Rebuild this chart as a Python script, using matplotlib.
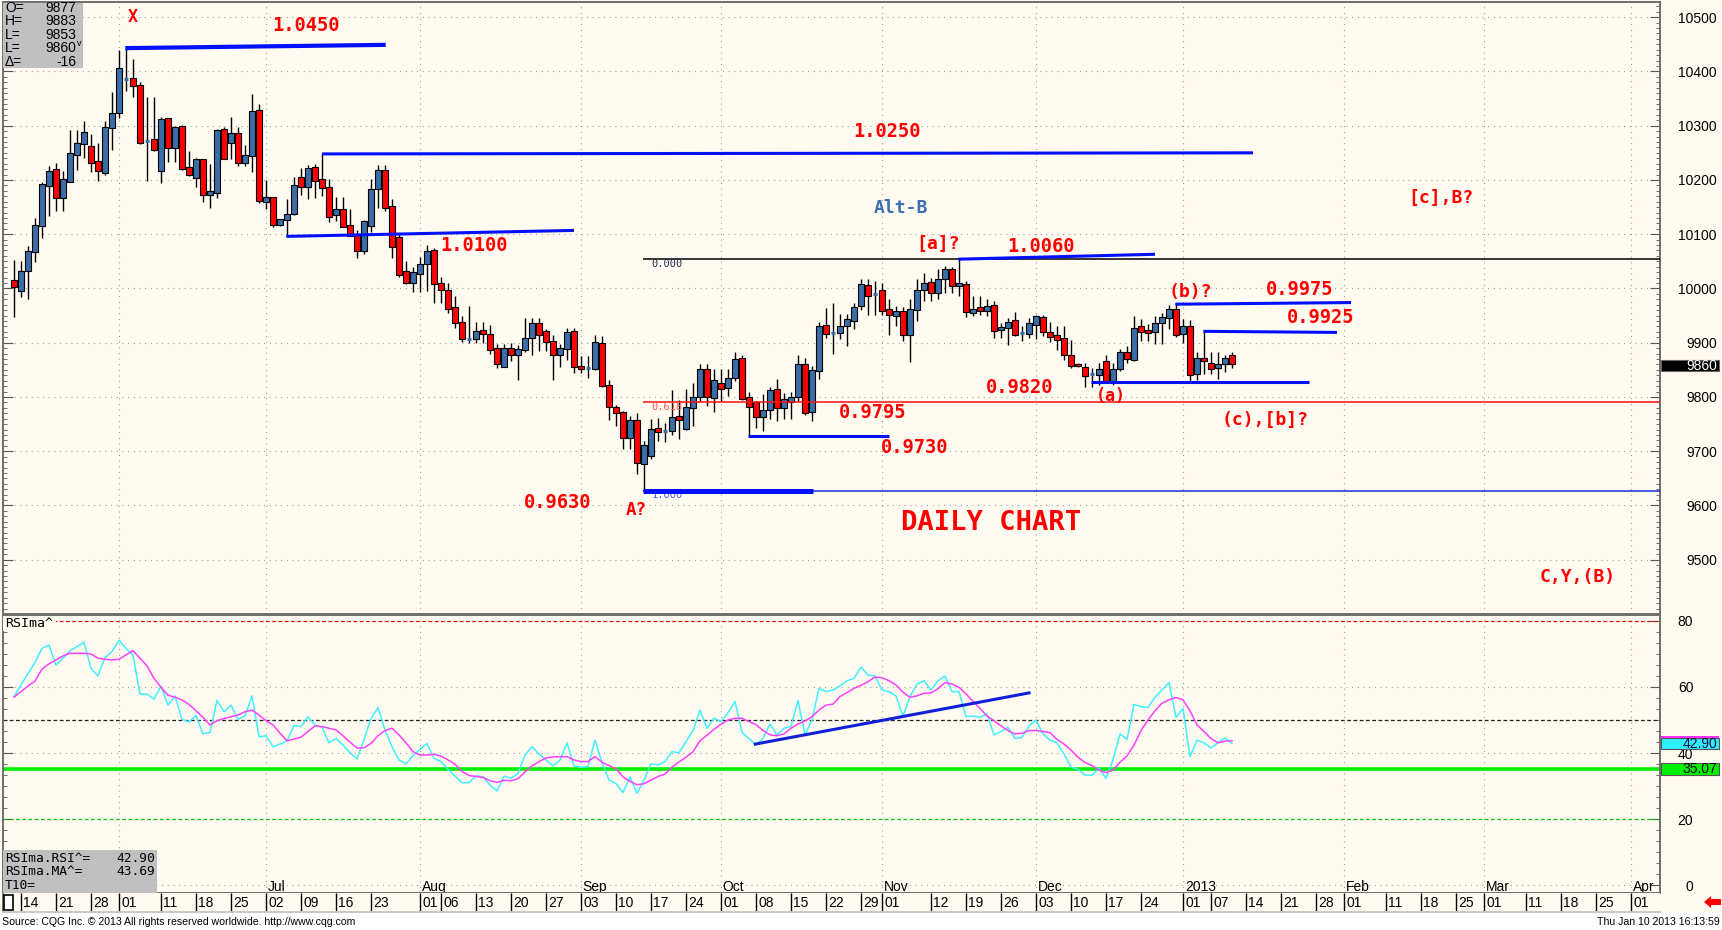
import numpy as np
import matplotlib
matplotlib.use("Agg")
import matplotlib.pyplot as plt
from matplotlib.patches import Rectangle, Polygon
from matplotlib.transforms import blended_transform_factory

W, H = 1722, 930

# daily bars from 2012-05-11 to 2013-01-10 (price x 10000)
first_day = "2012-05-11"
opens = [10015, 9995, 10032, 10067, 10115, 10189, 10220, 10167, 10196, 10246,
         10266, 10263, 10235, 10213, 10296, 10323, 10386, 10388, 10375, 10272,
         10275, 10216, 10314, 10259, 10299, 10224, 10203, 10238, 10172, 10176,
         10294, 10268, 10286, 10231, 10244, 10329, 10159, 10168, 10117, 10126,
         10137, 10205, 10187, 10224, 10202, 10187, 10135, 10146, 10117, 10098,
         10069, 10115, 10183, 10218, 10152, 10094, 10032, 10011, 10026, 10046,
         10070, 10010, 9998, 9965, 9939, 9906, 9906, 9923, 9917, 9890,
         9856, 9890, 9878, 9886, 9908, 9936, 9921, 9904, 9878, 9888,
         9921, 9858, 9854, 9852, 9900, 9823, 9782, 9773, 9725, 9758,
         9677, 9692, 9743, 9737, 9738, 9765, 9741, 9780, 9800, 9852,
         9799, 9826, 9817, 9835, 9872, 9800, 9791, 9763, 9776, 9814,
         9780, 9791, 9800, 9861, 9773, 9847, 9933, 9918, 9918, 9930,
         9940, 9968, 10006, 9990, 9998, 9963, 9949, 9958, 9915, 9961,
         9998, 10011, 9992, 10017, 10035, 10005, 10008, 9955, 9965, 9958,
         9969, 9923, 9928, 9941, 9918, 9917, 9933, 9948, 9920, 9914,
         9909, 9878, 9860, 9856, 9843, 9840, 9867, 9830, 9852, 9883,
         9869, 9930, 9924, 9920, 9937, 9946, 9963, 9917, 9930, 9843,
         9872, 9863, 9853, 9861, 9877]
highs = [10052, 10050, 10078, 10130, 10196, 10226, 10231, 10216, 10292, 10292,
         10309, 10285, 10268, 10309, 10362, 10440, 10443, 10423, 10381, 10353,
         10353, 10316, 10314, 10299, 10301, 10253, 10240, 10238, 10229, 10294,
         10298, 10316, 10298, 10264, 10358, 10340, 10200, 10168, 10128, 10164,
         10205, 10222, 10227, 10229, 10248, 10202, 10168, 10168, 10146, 10107,
         10126, 10202, 10227, 10227, 10165, 10100, 10050, 10039, 10058, 10080,
         10074, 10021, 10010, 9986, 9949, 9967, 9938, 9938, 9932, 9897,
         9897, 9899, 9895, 9945, 9945, 9945, 9925, 9915, 9897, 9928,
         9928, 9876, 9876, 9915, 9912, 9832, 9786, 9774, 9765, 9771,
         9718, 9759, 9762, 9752, 9813, 9795, 9814, 9826, 9860, 9860,
         9851, 9852, 9852, 9883, 9878, 9810, 9792, 9805, 9819, 9834,
         9808, 9810, 9877, 9872, 9858, 9938, 9964, 9973, 9953, 9953,
         9974, 10017, 10017, 10014, 10011, 9981, 9968, 9965, 9980, 10017,
         10029, 10020, 10035, 10042, 10039, 10054, 10014, 9987, 9987, 9980,
         9977, 9937, 9946, 9957, 9930, 9946, 9952, 9952, 9938, 9930,
         9930, 9905, 9862, 9862, 9854, 9863, 9877, 9863, 9888, 9894,
         9950, 9943, 9934, 9949, 9955, 9969, 9971, 9943, 9942, 9882,
         9920, 9883, 9882, 9878, 9883]
lows = [9947, 9984, 9980, 10048, 10093, 10133, 10143, 10143, 10196, 10218,
        10240, 10214, 10198, 10209, 10255, 10314, 10364, 10353, 10266, 10198,
        10253, 10194, 10233, 10233, 10218, 10207, 10187, 10159, 10148, 10166,
        10238, 10238, 10225, 10225, 10214, 10157, 10146, 10113, 10115, 10096,
        10135, 10172, 10165, 10166, 10170, 10122, 10124, 10113, 10096, 10057,
        10063, 10104, 10148, 10142, 10057, 10021, 10008, 9993, 9993, 9995,
        9973, 9974, 9954, 9927, 9902, 9899, 9899, 9899, 9880, 9853,
        9855, 9867, 9832, 9882, 9878, 9884, 9884, 9832, 9856, 9869,
        9845, 9845, 9835, 9850, 9818, 9758, 9746, 9704, 9704, 9658,
        9628, 9686, 9718, 9717, 9730, 9723, 9740, 9747, 9792, 9783,
        9772, 9792, 9802, 9829, 9795, 9728, 9743, 9737, 9759, 9755,
        9759, 9760, 9792, 9767, 9755, 9834, 9909, 9880, 9906, 9894,
        9925, 9961, 9952, 9952, 9952, 9914, 9931, 9903, 9864, 9940,
        9977, 9977, 9980, 9992, 9992, 9986, 9948, 9949, 9952, 9949,
        9909, 9909, 9896, 9912, 9903, 9909, 9906, 9912, 9901, 9886,
        9868, 9854, 9856, 9819, 9819, 9823, 9826, 9823, 9847, 9863,
        9866, 9903, 9903, 9897, 9897, 9925, 9911, 9900, 9826, 9832,
        9842, 9842, 9834, 9846, 9853]
closes = [10002, 10032, 10069, 10117, 10192, 10216, 10167, 10202, 10250, 10268,
          10288, 10231, 10216, 10298, 10323, 10406, 10386, 10373, 10268, 10272,
          10255, 10312, 10259, 10298, 10220, 10209, 10238, 10172, 10179, 10292,
          10238, 10286, 10231, 10246, 10327, 10161, 10168, 10117, 10128, 10137,
          10190, 10187, 10222, 10198, 10185, 10131, 10146, 10113, 10096, 10069,
          10124, 10183, 10218, 10148, 10076, 10024, 10010, 10030, 10046, 10069,
          10008, 9997, 9962, 9936, 9906, 9906, 9921, 9917, 9886, 9860,
          9890, 9878, 9888, 9908, 9936, 9914, 9902, 9877, 9891, 9919,
          9856, 9852, 9854, 9902, 9820, 9782, 9771, 9725, 9758, 9679,
          9712, 9741, 9736, 9737, 9763, 9758, 9782, 9800, 9852, 9800,
          9831, 9815, 9835, 9870, 9797, 9782, 9763, 9776, 9812, 9780,
          9797, 9800, 9861, 9771, 9849, 9931, 9917, 9918, 9930, 9943,
          9965, 10008, 9987, 9990, 9958, 9952, 9958, 9914, 9963, 9998,
          10011, 9992, 10017, 10035, 10005, 10010, 9957, 9963, 9958, 9968,
          9922, 9929, 9939, 9915, 9918, 9937, 9949, 9920, 9911, 9905,
          9878, 9857, 9858, 9839, 9843, 9852, 9829, 9852, 9882, 9870,
          9928, 9920, 9918, 9937, 9948, 9963, 9915, 9931, 9840, 9872,
          9867, 9852, 9861, 9871, 9860]

# RSI and its moving average, same days as the bars
rsi = [57.1, 60.6, 64.1, 67.4, 71.7, 72.7, 66.6, 68.7, 71.0, 72.2,
       73.5, 65.7, 63.3, 68.9, 70.7, 74.2, 71.7, 69.7, 57.8, 57.8,
       56.3, 60.3, 54.5, 57.3, 50.2, 49.4, 51.4, 45.8, 46.2, 55.9,
       52.5, 54.5, 50.2, 51.2, 57.3, 44.9, 45.2, 41.9, 42.7, 43.7,
       48.3, 48.0, 51.0, 48.5, 47.8, 43.1, 44.4, 42.4, 40.1, 38.2,
       44.1, 50.5, 53.7, 47.0, 41.9, 37.9, 36.7, 39.2, 41.1, 42.9,
       38.4, 37.4, 35.1, 33.0, 31.0, 31.0, 33.1, 32.8, 30.3, 28.5,
       33.0, 32.3, 33.8, 39.4, 41.9, 39.7, 37.9, 36.1, 37.9, 43.1,
       36.1, 35.7, 35.9, 43.9, 37.1, 31.8, 30.8, 28.0, 32.8, 27.8,
       31.8, 36.7, 36.4, 37.4, 40.4, 40.1, 43.4, 46.8, 53.0, 47.5,
       50.5, 49.5, 52.2, 55.6, 46.2, 44.4, 42.4, 44.4, 48.8, 45.5,
       47.5, 48.0, 55.9, 45.5, 50.0, 59.6, 58.6, 59.1, 60.3, 61.9,
       62.6, 66.0, 63.6, 63.3, 59.1, 58.6, 57.3, 51.2, 57.1, 60.9,
       61.9, 59.1, 61.9, 63.3, 58.6, 58.6, 51.0, 51.2, 50.8, 51.8,
       45.5, 46.5, 47.8, 44.4, 44.7, 48.2, 50.0, 45.8, 43.9, 43.1,
       39.7, 35.7, 35.1, 33.3, 33.3, 35.4, 32.3, 37.9, 45.8, 44.1,
       54.7, 54.0, 53.8, 56.9, 59.1, 61.3, 50.8, 53.5, 38.9, 43.9,
       43.1, 41.5, 43.1, 44.6, 42.9]
rsi_ma = [56.9, 58.6, 60.3, 61.8, 65.4, 67.0, 68.2, 69.4, 70.2, 70.2,
          70.2, 70.0, 68.7, 68.4, 68.2, 68.4, 69.7, 71.0, 68.7, 66.4,
          62.6, 59.9, 57.5, 56.9, 56.1, 54.7, 52.8, 50.8, 48.5, 49.8,
          50.4, 51.0, 51.5, 52.5, 53.0, 51.5, 49.8, 48.5, 46.0, 43.7,
          44.2, 44.8, 46.5, 48.2, 48.0, 47.5, 47.0, 45.2, 43.3, 41.5,
          41.6, 42.9, 45.2, 46.8, 47.5, 45.5, 43.1, 40.4, 39.4, 39.4,
          39.6, 39.1, 37.9, 36.6, 34.4, 33.2, 32.9, 32.6, 31.6, 31.1,
          31.7, 31.6, 32.2, 34.3, 36.1, 37.4, 38.5, 38.8, 38.9, 38.9,
          37.9, 37.4, 37.4, 38.9, 37.2, 36.2, 35.2, 32.8, 31.4, 30.4,
          30.7, 31.8, 32.9, 33.6, 35.7, 37.3, 38.7, 40.4, 43.7, 45.4,
          47.2, 48.7, 50.0, 50.5, 50.5, 49.5, 48.6, 46.8, 45.5, 45.2,
          45.8, 47.5, 48.8, 49.7, 51.0, 53.0, 54.5, 54.8, 57.1, 58.3,
          59.6, 60.5, 61.6, 63.0, 62.8, 61.9, 60.6, 58.4, 56.9, 57.3,
          58.1, 58.2, 59.5, 61.3, 60.9, 59.9, 57.9, 55.6, 53.5, 51.2,
          49.8, 48.2, 46.8, 45.8, 46.0, 46.8, 46.8, 46.5, 46.2, 44.1,
          42.7, 40.9, 38.7, 37.1, 36.2, 34.8, 34.1, 34.8, 37.2, 39.1,
          42.4, 46.8, 50.0, 52.8, 55.1, 56.1, 56.8, 56.1, 52.8, 48.5,
          46.5, 44.4, 43.1, 43.6, 43.7]

price_ticks = [9500, 9600, 9700, 9800, 9900, 10000, 10100, 10200, 10300, 10400, 10500]
rsi_ticks = [0, 20, 40, 60, 80]
day_ticks = ["2012-05-14", "2012-05-21", "2012-05-28", "2012-06-01", "2012-06-11",
             "2012-06-18", "2012-06-25", "2012-07-02", "2012-07-09", "2012-07-16",
             "2012-07-23", "2012-08-01", "2012-08-06", "2012-08-13", "2012-08-20",
             "2012-08-27", "2012-09-03", "2012-09-10", "2012-09-17", "2012-09-24",
             "2012-10-01", "2012-10-08", "2012-10-15", "2012-10-22", "2012-10-29",
             "2012-11-01", "2012-11-12", "2012-11-19", "2012-11-26", "2012-12-03",
             "2012-12-10", "2012-12-17", "2012-12-24", "2013-01-01", "2013-01-07",
             "2013-01-14", "2013-01-21", "2013-01-28", "2013-02-01", "2013-02-11",
             "2013-02-18", "2013-02-25", "2013-03-01", "2013-03-11", "2013-03-18",
             "2013-03-25", "2013-04-01"]
month_starts = ["2012-06-01", "2012-07-02", "2012-08-01", "2012-09-03", "2012-10-01",
                "2012-11-01", "2012-12-03", "2013-01-01", "2013-02-01", "2013-03-01",
                "2013-04-01"]
month_names = ["Jun", "Jul", "Aug", "Sep", "Oct", "Nov", "Dec", "2013", "Feb", "Mar", "Apr"]

origin = "2012-05-14"


def pos(d):
    return int(np.busday_count(origin, d))


def fx(x):
    return x / W


def fy(y):
    return 1 - y / H


assert len(opens) == len(highs) == len(lows) == len(closes) == len(rsi) == len(rsi_ma)

xs = np.arange(len(opens)) + pos(first_day)
o = np.array(opens, float)
h = np.array(highs, float)
l = np.array(lows, float)
c = np.array(closes, float)

CREAM = "#fffbf0"
UP = "#3b6ea8"
DOWN = "#ff0000"
LBLUE = "#0010ff"
GRIDC = "#8a8a8a"
DOT = (0, (0.8, 4.3))
XLIM = (-2.57, 234.14)

plt.rcParams["font.family"] = ["Liberation Sans", "DejaVu Sans"]
fig = plt.figure(figsize=(W / 100, H / 100), dpi=100, facecolor=CREAM)

ax = fig.add_axes([fx(3), fy(614), (1660 - 3) / W, (614 - 2) / H], facecolor=CREAM)
ax2 = fig.add_axes([fx(3), fy(893), (1660 - 3) / W, (893 - 615) / H], facecolor=CREAM)
axd = fig.add_axes([fx(3), fy(912), (1660 - 3) / W, (912 - 893) / H], facecolor=CREAM)

for a in (ax, ax2, axd):
    a.set_xlim(*XLIM)
    for s in a.spines.values():
        s.set_color("#6e6e6e")
        s.set_linewidth(1.4)

# ---------------- price panel ----------------
ax.set_ylim(9400, 10528)
for p in price_ticks:
    ax.axhline(p, color=GRIDC, lw=0.8, ls=DOT, zorder=1)
for d in month_starts:
    ax.axvline(pos(d), color=GRIDC, lw=0.8, ls=DOT, zorder=1)
    ax2.axvline(pos(d), color=GRIDC, lw=0.8, ls=DOT, zorder=1)

ax.vlines(xs, l, h, color="black", lw=1.0, zorder=2)
body = c != o
cols = np.where(c > o, UP, DOWN)
ax.bar(xs[body], np.abs(c - o)[body], bottom=np.minimum(o, c)[body], width=0.72,
       color=cols[body], edgecolor="black", linewidth=0.8, zorder=3)
ax.hlines(o[~body], xs[~body] - 0.3, xs[~body] + 0.3, color=UP, lw=2.2, zorder=3)

# fibonacci grid from the September low
fib_x0 = 88.9
ax.hlines(10054, fib_x0, XLIM[1], color="black", lw=1.1, zorder=4)
ax.hlines(9790, fib_x0, XLIM[1], color="#ff1010", lw=1.1, zorder=4)
ax.hlines(9626, fib_x0, XLIM[1], color="#1a28d8", lw=1.1, zorder=4)
ax.text(fib_x0 + 1.2, 10045, "0.000", fontsize=7.5, color="#1c2c50", va="center",
        family="DejaVu Sans Mono", zorder=4)
ax.text(fib_x0 + 1.2, 9781, "0.618", fontsize=7.5, color="#ff5a5a", va="center",
        family="DejaVu Sans Mono", zorder=5)
ax.text(fib_x0 + 1.2, 9619, "1.000", fontsize=7.5, color="#4a60ff", va="center",
        family="DejaVu Sans Mono", zorder=4)

# hand drawn levels
levels = [(14.9, 10443, 52.1, 10449, 3.0), (43.0, 10248, 176.0, 10250, 2.2),
          (37.9, 10096, 79.0, 10107, 2.2), (133.9, 10054, 162.0, 10063, 2.2),
          (164.9, 9971, 190.0, 9974, 2.2), (168.9, 9921, 188.0, 9919, 2.2),
          (152.9, 9828, 184.0, 9828, 2.2), (103.9, 9729, 124.0, 9729, 2.2),
          (88.9, 9626, 113.1, 9626, 3.6)]
for x0, y0, x1, y1, lw in levels:
    ax.plot([x0, x1], [y0, y1], color=LBLUE, lw=lw, solid_capstyle="butt", zorder=5)

labels = [("X", 15.9, 10501, 12), ("1.0450", 40.7, 10484, 13.5), ("1.0250", 123.7, 10290, 13.5),
          ("1.0100", 64.7, 10080, 13.5), ("[a]?", 131.0, 10082, 13), ("1.0060", 145.7, 10078, 13.5),
          ("(b)?", 167.0, 9993, 13), ("0.9975", 182.7, 9998, 13.5), ("0.9925", 185.7, 9947, 13.5),
          ("[c],B?", 202.9, 10166, 13), ("0.9820", 142.7, 9818, 13.5), ("(a)", 155.7, 9801, 12),
          ("(c),[b]?", 177.7, 9758, 13), ("0.9795", 121.7, 9771, 13.5), ("0.9730", 127.6, 9707, 13.5),
          ("0.9630", 76.7, 9605, 13.5), ("A?", 87.9, 9592, 12.5), ("DAILY CHART", 138.6, 9568, 19.5),
          ("C,Y,(B)", 222.4, 9469, 13)]
for txt, x, y, fs in labels:
    ax.text(x, y, txt, color="#ff0000", fontsize=fs, fontweight="bold", ha="center", va="center",
            family="DejaVu Sans Mono", zorder=6)
ax.text(125.7, 10148, "Alt-B", color="#3d6fb4", fontsize=13, fontweight="bold", ha="center",
        va="center", family="DejaVu Sans Mono", zorder=6)

ax.set_xticks([])
ax.yaxis.tick_right()
ax.set_yticks(price_ticks)
ax.set_yticklabels([str(p) for p in price_ticks])
ax.set_yticks(np.arange(9400, 10530, 10), minor=True)
ax.tick_params(axis="y", which="both", direction="in", left=True, right=True, colors="#555555",
               labelcolor="black", labelsize=10)
ax.tick_params(axis="y", which="major", length=7, pad=41)
ax.tick_params(axis="y", which="minor", length=3)
plt.setp(ax.get_yticklabels(), ha="right")

# last price box
bt = blended_transform_factory(ax.transAxes, ax.transData)
ax.add_patch(Rectangle((1.0006, 9847), 0.035, 22, transform=bt, facecolor="black",
                       edgecolor="#666666", lw=0.8, clip_on=False, zorder=10))
ax.text(1.0344, 9858, "9860", transform=bt, color="white", fontsize=10, ha="right",
        va="center", clip_on=False, zorder=11)

# ---------------- RSI panel ----------------
ax2.set_ylim(-2.4, 81.8)
for v in (0, 40, 60):
    ax2.axhline(v, color=GRIDC, lw=0.8, ls=DOT, zorder=1)
ax2.axhline(80, color="#e01010", lw=0.9, ls=(0, (3, 2)), zorder=2)
ax2.axhline(50, color="#202020", lw=0.9, ls=(0, (3, 2)), zorder=2)
ax2.axhline(20, color="#10c010", lw=0.9, ls=(0, (3, 2)), zorder=2)
ax2.axhline(35.07, color="#00ee00", lw=2.6, zorder=2)
ax2.plot(xs, rsi, color="#40f0ff", lw=1.1, zorder=3)
ax2.plot(xs, rsi_ma, color="#ff40ff", lw=1.1, zorder=3)
ax2.plot([104.9, 144.0], [42.7, 58.2], color="#1020d8", lw=2.2, zorder=4)

for d, name in zip(month_starts, month_names):
    ax2.text(pos(d) + 0.25, -0.6, name, fontsize=10, ha="left", va="center", zorder=2)

bt2 = blended_transform_factory(ax2.transAxes, ax2.transData)
ax2.add_patch(Rectangle((0.0, 77.0), 0.032, 4.6, transform=bt2, facecolor=CREAM,
                        edgecolor="none", zorder=3))
ax2.text(0.0015, 79.3, "RSIma^", fontsize=9.5, family="DejaVu Sans Mono", va="center",
         ha="left", transform=bt2, zorder=4)
ax2.set_xticks([])
ax2.yaxis.tick_right()
ax2.set_yticks(rsi_ticks)
ax2.set_yticklabels([str(v) for v in rsi_ticks])
ax2.set_yticks(np.arange(0, 81, 20 / 6), minor=True)
ax2.tick_params(axis="y", which="both", direction="in", left=True, right=True, colors="#555555",
                labelcolor="black", labelsize=10)
ax2.tick_params(axis="y", which="major", length=7, pad=24)
ax2.tick_params(axis="y", which="minor", length=3)
plt.setp(ax2.get_yticklabels(), ha="right")

ax2.add_patch(Rectangle((1.0006, 44.5), 0.035, 0.8, transform=bt2, facecolor="#ff30ff",
                        edgecolor="none", clip_on=False, zorder=10))
ax2.add_patch(Rectangle((1.0006, 41.2), 0.035, 3.3, transform=bt2, facecolor="#30f0ff",
                        edgecolor="#555555", lw=0.8, clip_on=False, zorder=10))
ax2.text(1.0344, 42.85, "42.90", transform=bt2, fontsize=10, ha="right", va="center",
         color="#101040", clip_on=False, zorder=11)
ax2.add_patch(Rectangle((1.0006, 33.3), 0.035, 3.7, transform=bt2, facecolor="#00f000",
                        edgecolor="#555555", lw=0.8, clip_on=False, zorder=10))
ax2.text(1.0344, 35.15, "35.07", transform=bt2, fontsize=10, ha="right", va="center",
         color="black", clip_on=False, zorder=11)

# ---------------- date row ----------------
axd.set_ylim(0, 1)
axd.set_xticks([])
axd.set_yticks([])
axd.spines["top"].set_visible(False)
axd.spines["bottom"].set_color("#c8c8c8")
axd.spines["right"].set_visible(False)
for d in day_ticks:
    p = pos(d)
    axd.vlines(p, 0, 1, color="black", lw=1.0)
    axd.text(p + 0.3, 0.45, d[-2:], fontsize=10, ha="left", va="center")

# ---------------- overlays ----------------
fig.add_artist(Rectangle((fx(3), fy(68)), 80 / W, 65 / H, transform=fig.transFigure,
                         facecolor="#c0c0c0", edgecolor="none", zorder=20))
info = [("O=", "9877"), ("H=", "9883"), ("L=", "9853"), ("L=", "9860"), ("\u0394=", "-16")]
for k, (a, b) in enumerate(info):
    yy = fy(8 + 13.4 * k)
    fig.text(fx(5), yy, a, fontsize=10, va="center", ha="left", zorder=21)
    fig.text(fx(76), yy, b, fontsize=10, va="center", ha="right", zorder=21)
fig.text(fx(77), fy(44), "v", fontsize=6.5, va="center", ha="left", zorder=21)

fig.add_artist(Rectangle((fx(3), fy(893)), 154 / W, 43 / H, transform=fig.transFigure,
                         facecolor="#c0c0c0", edgecolor="none", zorder=20))
rsi_info = [("RSIma.RSI^=", "42.90"), ("RSIma.MA^=", "43.69"), ("T10=", "")]
for k, (a, b) in enumerate(rsi_info):
    yy = fy(858 + 13.5 * k)
    fig.text(fx(5), yy, a, fontsize=9.3, va="center", ha="left", family="DejaVu Sans Mono", zorder=21)
    fig.text(fx(155), yy, b, fontsize=9.3, va="center", ha="right", family="DejaVu Sans Mono", zorder=21)

fig.add_artist(Rectangle((fx(4), fy(910)), 9 / W, 15 / H, transform=fig.transFigure,
                         facecolor="white", edgecolor="black", lw=1.2, zorder=20))
fig.add_artist(Rectangle((0, 0), 1, 17 / H, transform=fig.transFigure,
                         facecolor="white", edgecolor="none", zorder=0))
fig.text(fx(2), fy(922), "Source: CQG Inc. \u00a9 2013 All rights reserved worldwide. http://www.cqg.com",
         fontsize=7.6, va="center", ha="left")
fig.text(fx(1720), fy(922), "Thu Jan 10 2013 16:13:59", fontsize=7.6, va="center", ha="right")

arrow = [(1704, 902), (1711, 896), (1711, 899), (1721, 899), (1721, 905), (1711, 905), (1711, 908)]
fig.add_artist(Polygon([(fx(x), fy(y)) for x, y in arrow], closed=True, transform=fig.transFigure,
                       facecolor="#ff0000", edgecolor="none", zorder=20))

fig.savefig("out.png", dpi=100, facecolor=CREAM)
